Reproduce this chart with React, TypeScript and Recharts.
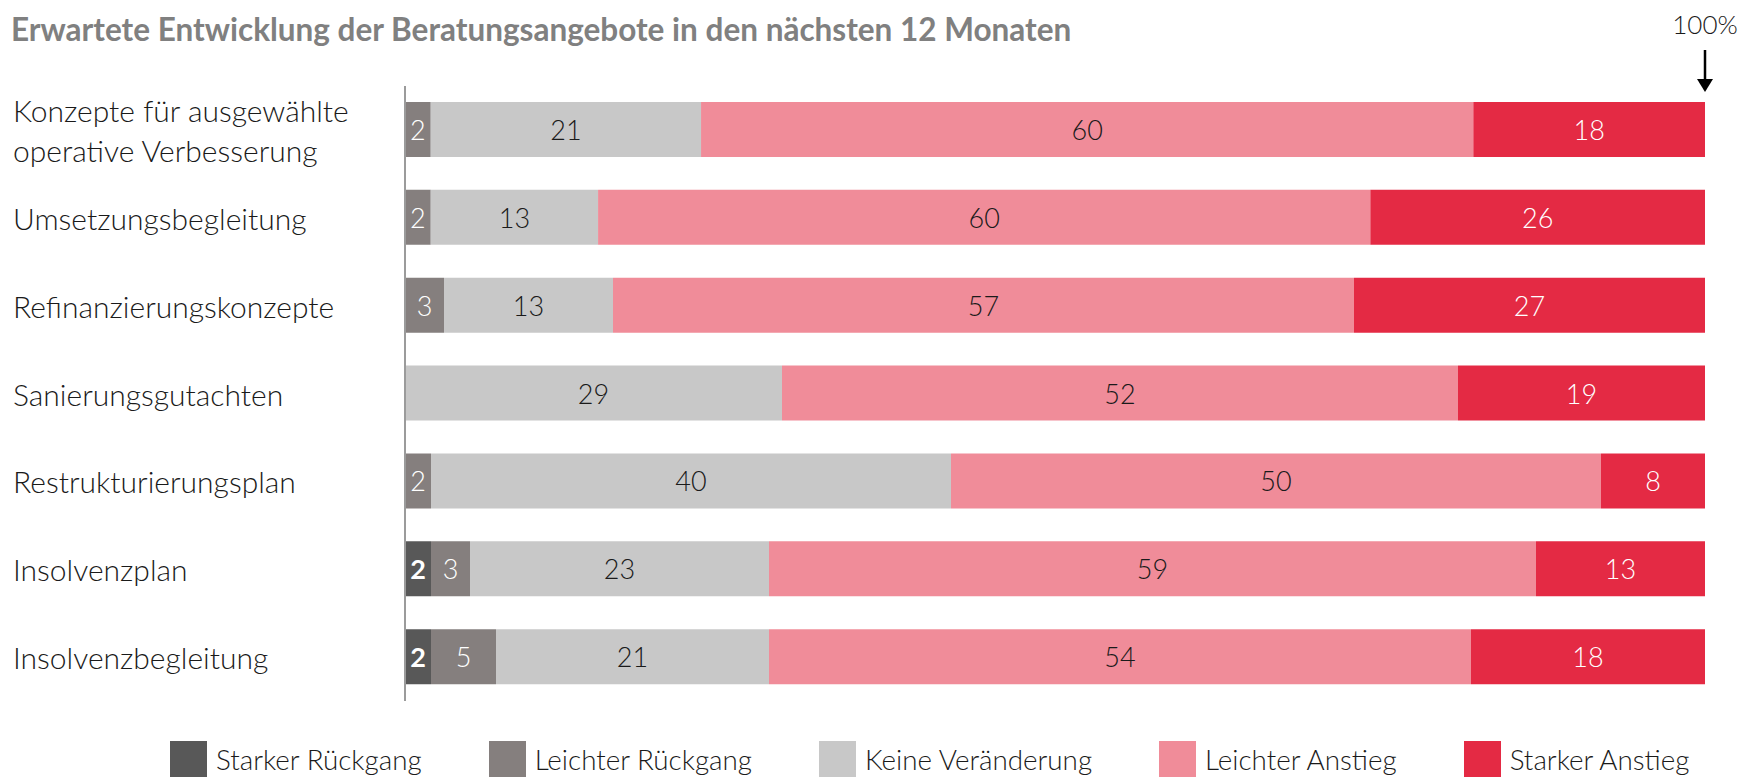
import React from "react";
import { BarChart, Bar, XAxis, YAxis, LabelList } from "recharts";

const categories = [
  "Konzepte für ausgewählte\noperative Verbesserung",
  "Umsetzungsbegleitung",
  "Refinanzierungskonzepte",
  "Sanierungsgutachten",
  "Restrukturierungsplan",
  "Insolvenzplan",
  "Insolvenzbegleitung",
];

const starkerRueckgang = [0, 0, 0, 0, 0, 2, 2];
const leichterRueckgang = [2, 2, 3, 0, 2, 3, 5];
const keineVeraenderung = [21, 13, 13, 29, 40, 23, 21];
const leichterAnstieg = [60, 60, 57, 52, 50, 59, 54];
const starkerAnstieg = [18, 26, 27, 19, 8, 13, 18];

const seriesNames = [
  "Starker Rückgang",
  "Leichter Rückgang",
  "Keine Veränderung",
  "Leichter Anstieg",
  "Starker Anstieg",
];

const data = categories.map((name, i) => ({
  name,
  sr: starkerRueckgang[i],
  lr: leichterRueckgang[i],
  kv: keineVeraenderung[i],
  la: leichterAnstieg[i],
  sa: starkerAnstieg[i],
}));

const FONT = "Lato, 'Open Sans', sans-serif";

const series = [
  { key: "sr", color: "#585858", text: "#ffffff", weight: 700 },
  { key: "lr", color: "#857f7e", text: "#ffffff", weight: 300 },
  { key: "kv", color: "#c8c8c8", text: "#1a1a1a", weight: 300 },
  { key: "la", color: "#f08c99", text: "#1a1a1a", weight: 300 },
  { key: "sa", color: "#e42a44", text: "#ffffff", weight: 300 },
];

const makeLabel = (fill: string, weight: number) => (props: any) => {
  const { x, y, width, height, value } = props;
  if (!value) return null;
  return (
    <text
      x={Number(x) + Number(width) / 2}
      y={Number(y) + Number(height) / 2}
      fill={fill}
      fontSize={27}
      fontWeight={weight}
      fontFamily={FONT}
      textAnchor="middle"
      dominantBaseline="central"
    >
      {value}
    </text>
  );
};

const CategoryTick = (props: any) => {
  const { y, payload } = props;
  const lines = String(payload.value).split("\n");
  return (
    <text
      x={13}
      y={y}
      fill="#1a1a1a"
      fontSize={30}
      fontWeight={300}
      fontFamily={FONT}
      textAnchor="start"
      dominantBaseline="central"
    >
      {lines.map((line, i) => (
        <tspan key={i} x={13} dy={i === 0 ? -((lines.length - 1) * 40) / 2 : 40}>
          {line}
        </tspan>
      ))}
    </text>
  );
};

const LegendContent = () => (
  <div style={{ display: "flex", alignItems: "center", paddingLeft: 170 }}>
    {series.map((s, i) => (
      <div key={s.key} style={{ display: "flex", alignItems: "center", marginRight: 67 }}>
        <div style={{ width: 37, height: 36, background: s.color, marginRight: 9 }} />
        <span
          style={{
            fontFamily: FONT,
            fontWeight: 300,
            fontSize: 27.8,
            color: "#1a1a1a",
            whiteSpace: "nowrap",
          }}
        >
          {seriesNames[i]}
        </span>
      </div>
    ))}
  </div>
);

export default function App() {
  return (
    <div
      style={{
        position: "absolute",
        left: 0,
        top: 0,
        width: 1757,
        height: 779,
        background: "#ffffff",
        overflow: "hidden",
      }}
    >
      <div
        style={{
          position: "absolute",
          left: 11,
          top: 10,
          fontFamily: FONT,
          fontWeight: 700,
          fontSize: 31.5,
          color: "#808080",
          whiteSpace: "nowrap",
        }}
      >
        Erwartete Entwicklung der Beratungsangebote in den nächsten 12 Monaten
      </div>

      <BarChart
        width={1757}
        height={779}
        data={data}
        layout="vertical"
        stackOffset="expand"
        barSize={55}
        margin={{ top: 86, right: 52, bottom: 78, left: 13 }}
      >
        <XAxis type="number" domain={[0, 1]} hide />
        <YAxis
          type="category"
          dataKey="name"
          width={392}
          tick={<CategoryTick />}
          tickLine={false}
          axisLine={{ stroke: "#9b9b9b", strokeWidth: 2 }}
          interval={0}
        />
        {series.map((s) => (
          <Bar
            key={s.key}
            dataKey={s.key}
            stackId="a"
            fill={s.color}
            isAnimationActive={false}
          >
            <LabelList dataKey={s.key} content={makeLabel(s.text, s.weight)} />
          </Bar>
        ))}
      </BarChart>

      <div style={{ position: "absolute", left: 0, top: 741, width: 1757 }}>
        <LegendContent />
      </div>

      <svg
        style={{ position: "absolute", left: 0, top: 0 }}
        width={1757}
        height={100}
      >
        <text
          x={1705}
          y={24}
          fontFamily={FONT}
          fontWeight={300}
          fontSize={26}
          fill="#1a1a1a"
          textAnchor="middle"
          dominantBaseline="central"
        >
          100%
        </text>
        <line x1={1705} y1={50} x2={1705} y2={80} stroke="#000" strokeWidth={2.5} />
        <polygon points="1697,79 1713,79 1705,92" fill="#000" />
      </svg>
    </div>
  );
}
